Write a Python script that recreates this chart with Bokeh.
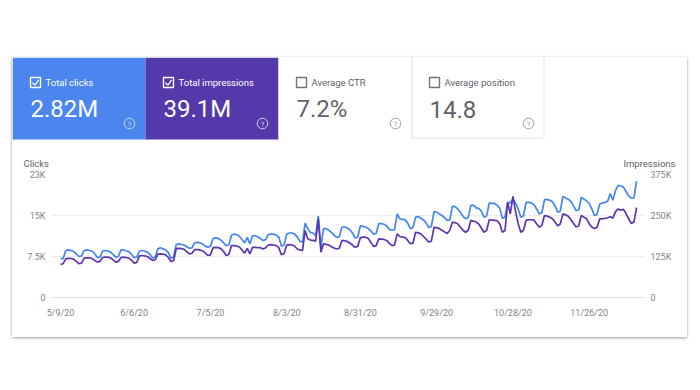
from bokeh.plotting import figure
from bokeh.models import Range1d, LinearAxis, FixedTicker, Span
from bokeh.layouts import column
from bokeh.embed import file_html
from bokeh.resources import INLINE
from bokeh.core.properties import value

FONT = "Roboto"

# ---- summary tiles ----
metric_names = ["Total clicks", "Total impressions", "Average CTR", "Average position"]
metric_values = ["2.82M", "39.1M", "7.2%", "14.8"]
metric_selected = [True, True, False, False]

# ---- axes ----
x_tick_days = [0, 28, 57, 86, 114, 143, 172, 201]
x_tick_labels = ["5/9/20", "6/6/20", "7/5/20", "8/3/20", "8/31/20", "9/29/20", "10/28/20", "11/26/20"]
clicks_ticks = [0, 7500, 15000, 22500]
clicks_tick_labels = ["0", "7.5K", "15K", "23K"]
impr_ticks = [0, 125000, 250000, 375000]
impr_tick_labels = ["0", "125K", "250K", "375K"]

# ---- daily series, 5/9/20 .. 12/14/20 ----
clicks = [
    7100, 7100, 8600, 8700, 8600, 8400, 8000,
    7500, 7600, 8600, 8700, 8600, 8500, 8000,
    7300, 7400, 8500, 8600, 8500, 8300, 7900,
    7400, 7500, 8700, 8700, 8500, 8400, 7900,
    7300, 7400, 8500, 8600, 8500, 8300, 7900,
    7200, 7400, 8900, 9100, 8900, 8700, 8200,
    7200, 7400, 9700, 9800, 9700, 9600, 9300,
    9000, 9100, 10000, 10100, 10000, 9800, 9400,
    9200, 9400, 10800, 10900, 10800, 10500, 10000,
    9500, 9600, 11400, 11600, 11500, 11200, 10600,
    10000, 11000, 9800, 11300, 11300, 11100, 10800,
    10400, 10600, 11500, 11600, 11600, 11400, 11000,
    9400, 9600, 11600, 11800, 11800, 11600, 11100,
    10300, 10100, 13600, 12600, 11900, 11800, 11300,
    14900, 9200, 12600, 12600, 12300, 11900, 11400,
    11000, 11100, 12900, 12900, 12700, 12400, 11800,
    10900, 11000, 13100, 13000, 12900, 12600, 12200,
    11600, 11700, 13500, 13500, 13400, 13100, 12500,
    12300, 12400, 15300, 14400, 14300, 14200, 13600,
    12600, 12800, 14700, 14800, 14500, 14200, 13600,
    12800, 13000, 15700, 15600, 15300, 15000, 14600,
    14100, 14200, 16700, 16600, 16200, 15600, 14900,
    14400, 14600, 16800, 16900, 16400, 16300, 15800,
    14700, 14900, 17300, 17200, 17200, 16900, 16300,
    14500, 14700, 17400, 17300, 18000, 17300, 16200,
    14700, 14900, 17400, 17400, 17300, 17000, 16200,
    15300, 15500, 17900, 17900, 17800, 17500, 16800,
    15600, 15800, 18500, 18200, 18000, 17600, 16800,
    15900, 16000, 18300, 18000, 17700, 17200, 16200,
    15000, 15200, 17100, 17300, 17400, 17600, 19000,
    17800, 19600, 20500, 20400, 20200, 19400, 18600,
    18200, 18200, 21300,
]
impressions = [
    101000, 103000, 118000, 119000, 119000, 117000, 110000,
    103000, 105000, 120000, 121000, 121000, 119000, 113000,
    108000, 110000, 122000, 123000, 123000, 121000, 115000,
    108000, 110000, 122000, 123000, 122000, 120000, 114000,
    105000, 107000, 127000, 128000, 127000, 125000, 119000,
    113000, 115000, 132000, 133000, 132000, 130000, 122000,
    110000, 112000, 149000, 150000, 149000, 147000, 140000,
    133000, 135000, 146000, 146000, 145000, 142000, 136000,
    128000, 130000, 152000, 153000, 152000, 149000, 140000,
    128000, 131000, 158000, 158000, 157000, 154000, 145000,
    135000, 150000, 133000, 153000, 153000, 152000, 152000,
    148000, 152000, 160000, 161000, 160000, 158000, 152000,
    130000, 134000, 160000, 161000, 160000, 157000, 148000,
    145000, 143000, 204000, 179000, 175000, 174000, 172000,
    240000, 138000, 164000, 162000, 160000, 155000, 151000,
    148000, 150000, 174000, 173000, 171000, 166000, 160000,
    153000, 156000, 182000, 184000, 184000, 180000, 168000,
    156000, 158000, 179000, 178000, 177000, 174000, 165000,
    158000, 160000, 194000, 186000, 184000, 183000, 174000,
    164000, 166000, 199000, 197000, 194000, 186000, 178000,
    169000, 172000, 214000, 213000, 210000, 205000, 200000,
    195000, 205000, 230000, 228000, 225000, 215000, 205000,
    199000, 205000, 235000, 233000, 230000, 224000, 212000,
    199000, 204000, 237000, 236000, 235000, 234000, 224000,
    199000, 205000, 290000, 255000, 308000, 262000, 225000,
    199000, 205000, 235000, 237000, 237000, 236000, 225000,
    214000, 220000, 250000, 248000, 245000, 240000, 230000,
    219000, 224000, 255000, 252000, 248000, 238000, 226000,
    215000, 218000, 250000, 245000, 240000, 225000, 215000,
    210000, 214000, 240000, 240000, 241000, 243000, 246000,
    242000, 262000, 270000, 266000, 269000, 256000, 240000,
    226000, 230000, 274000,
]
days = list(range(len(clicks)))

CLICKS_COLOR = "#4285f4"
IMPR_COLOR = "#5e35b1"
TILE_COLORS = ["#4a86ed", "#5439ab", "#ffffff", "#ffffff"]
GRAY_TEXT = "#5f6368"
AXIS_TEXT = "#80868b"

# ================= header (tiles) =================
HW, HH = 675, 112
TILE_W, TILE_H = 133, 82
head = figure(width=HW, height=HH, x_range=Range1d(0, HW), y_range=Range1d(HH, 0),
              x_axis_type=None, y_axis_type=None, output_backend="svg",
              toolbar_location=None, min_border=0)
head.frame_align = False
head.grid.visible = False
head.outline_line_color = None
head.background_fill_color = "white"
head.border_fill_color = "white"

lefts = [i * TILE_W for i in range(len(metric_names))]
rights = [l + TILE_W for l in lefts]
head.quad(left=lefts, right=rights, top=0, bottom=TILE_H, fill_color=TILE_COLORS, line_color=None)
# border of the last (unselected, bordered) tile
head.quad(left=[lefts[3] + 0.5], right=[rights[3] - 0.5], top=[-2], bottom=[TILE_H - 1.5],
          fill_color=None, line_color="#e0e0e0", line_width=1)

fg = ["white" if s else GRAY_TEXT for s in metric_selected]
box_col = ["white" if s else "#757575" for s in metric_selected]
help_col = ["#d0d8f0" if s else "#9aa0a6" for s in metric_selected]

head.rect(x=[l + 23 for l in lefts], y=25, width=10, height=10, fill_color=None,
          line_color=box_col, line_width=1.4)
chk_x = [[l + 20, l + 22.4, l + 26.2] for l, s in zip(lefts, metric_selected) if s]
chk_y = [[25.2, 27.6, 22.4] for s in metric_selected if s]
head.multi_line(xs=chk_x, ys=chk_y, line_color="white", line_width=1.3)

head.text(x=[l + 33 for l in lefts], y=24.5, text=metric_names, text_font=value(FONT),
          text_font_size=value("9.5px"), text_color=fg, text_baseline="middle")
head.text(x=[l + 18 for l in lefts], y=51.5, text=metric_values, text_font=value(FONT),
          text_font_size=value("24px"), text_color=fg, text_baseline="middle")
head.circle(x=[l + 117 for l in lefts], y=66, radius=5.3, fill_color=None,
            line_color=help_col, line_width=1)
head.text(x=[l + 117 for l in lefts], y=66.5, text=["?"] * 4, text_font=value(FONT),
          text_font_size=value("7.5px"), text_color=help_col, text_align="center",
          text_baseline="middle")

head.text(x=[11], y=[105.5], text=["Clicks"], text_font=value(FONT), text_font_size=value("9.5px"),
          text_color="#616161", text_baseline="middle")
head.text(x=[663], y=[105.5], text=["Impressions"], text_font=value(FONT), text_font_size=value("9.5px"),
          text_color="#616161", text_baseline="middle", text_align="right")

# ================= chart =================
CW, CH = 675, 168
p = figure(width=CW, height=CH, x_range=Range1d(-3.8, 222.4), y_range=Range1d(0, 22500),
           output_backend="svg", toolbar_location=None,
           min_border_left=38, min_border_right=42, min_border_top=5, min_border_bottom=40)
p.frame_align = False
p.extra_y_ranges = {"imp": Range1d(0, 375000)}
p.add_layout(LinearAxis(y_range_name="imp"), "right")
p.outline_line_color = None
p.background_fill_color = "white"
p.border_fill_color = "white"

p.xaxis.ticker = FixedTicker(ticks=x_tick_days)
p.xaxis.major_label_overrides = dict(zip(x_tick_days, x_tick_labels))
p.yaxis[0].ticker = FixedTicker(ticks=clicks_ticks)
p.yaxis[0].major_label_overrides = dict(zip(clicks_ticks, clicks_tick_labels))
p.yaxis[1].ticker = FixedTicker(ticks=impr_ticks)
p.yaxis[1].major_label_overrides = dict(zip(impr_ticks, impr_tick_labels))

for ax in p.axis:
    ax.axis_line_color = None
    ax.major_tick_line_color = None
    ax.minor_tick_line_color = None
    ax.major_tick_in = 0
    ax.major_tick_out = 0
    ax.major_label_text_font = FONT
    ax.major_label_text_font_size = "9px"
    ax.major_label_text_color = AXIS_TEXT
    ax.major_label_standoff = 5
p.xaxis.major_label_standoff = 10

p.xgrid.visible = False
p.ygrid.ticker = FixedTicker(ticks=clicks_ticks)
p.ygrid.grid_line_color = "#ececec"
p.add_layout(Span(location=0, dimension="width", line_color="#c4c4c4", line_width=1))

p.line(days, clicks, line_color=CLICKS_COLOR, line_width=1.7)
p.line(days, impressions, y_range_name="imp", line_color=IMPR_COLOR, line_width=1.7)

card = column(head, p, margin=(57, 0, 0, 12),
              styles={"box-shadow": "0 1px 3px 0 rgba(60,64,67,0.35), 0 1px 2px 0 rgba(60,64,67,0.2)",
                      "background-color": "white"})

open("out.html", "w").write(file_html(card, INLINE))
